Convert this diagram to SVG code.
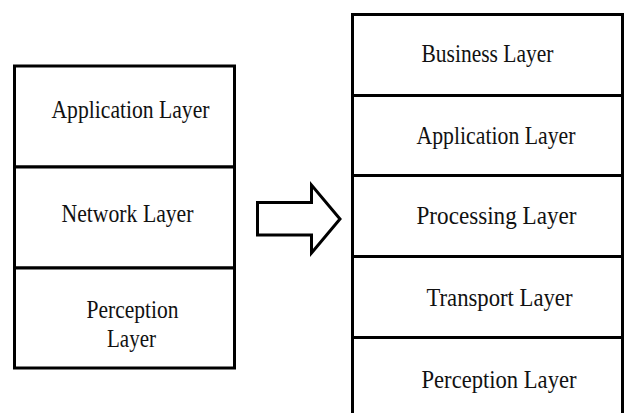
<svg xmlns="http://www.w3.org/2000/svg" width="624" height="413" viewBox="0 0 624 413">
<style>
.box{fill:#fff;stroke:#000;stroke-width:3}
.t{font-family:"Liberation Serif","Times New Roman",serif;font-size:26px;fill:#111}
</style>
<rect width="624" height="413" fill="#fff"/>
<g id="old-application"><rect class="box" x="14.5" y="66" width="220" height="101"/><text class="t" x="51.5" y="118" textLength="158" lengthAdjust="spacingAndGlyphs">Application Layer</text></g>
<g id="old-network"><rect class="box" x="14.5" y="167" width="220" height="101"/><text class="t" x="61.5" y="222" textLength="132" lengthAdjust="spacingAndGlyphs">Network Layer</text></g>
<g id="old-perception"><rect class="box" x="14.5" y="268" width="220" height="100"/><text class="t" x="86.5" y="317.5" textLength="92" lengthAdjust="spacingAndGlyphs">Perception</text><text class="t" x="107" y="347" textLength="49" lengthAdjust="spacingAndGlyphs">Layer</text></g>
<g id="connectors"><path class="box" d="M257.5 202.5 H311.5 V185 L340 219 L311.5 253 V235 H257.5 Z"/></g>
<g id="business"><rect class="box" x="352.5" y="14.5" width="270" height="81"/><text class="t" x="421.5" y="62" textLength="132" lengthAdjust="spacingAndGlyphs">Business Layer</text></g>
<g id="application"><rect class="box" x="352.5" y="95.5" width="270" height="80"/><text class="t" x="416.5" y="143.5" textLength="159" lengthAdjust="spacingAndGlyphs">Application Layer</text></g>
<g id="processing"><rect class="box" x="352.5" y="175.5" width="270" height="81"/><text class="t" x="416.5" y="223.5" textLength="160" lengthAdjust="spacingAndGlyphs">Processing Layer</text></g>
<g id="transport"><rect class="box" x="352.5" y="256.5" width="270" height="81"/><text class="t" x="426.5" y="305.5" textLength="146" lengthAdjust="spacingAndGlyphs">Transport Layer</text></g>
<g id="perception"><rect class="box" x="352.5" y="337.5" width="270" height="90"/><text class="t" x="421.5" y="388" textLength="155" lengthAdjust="spacingAndGlyphs">Perception Layer</text></g>
</svg>
